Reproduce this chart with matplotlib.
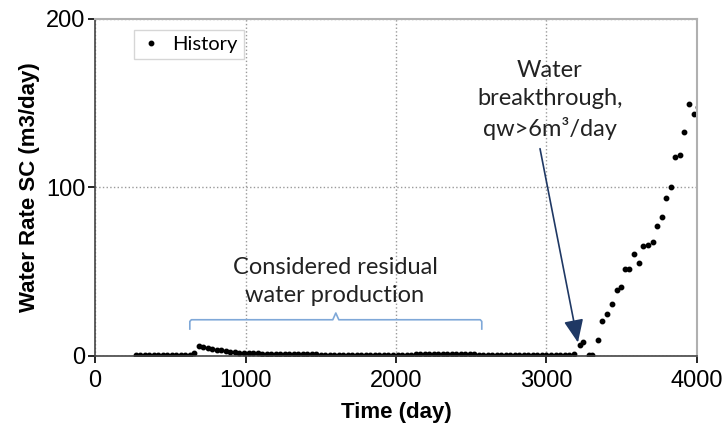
import matplotlib.pyplot as plt

# monthly history of water rate (m3/day)
time_early = [
    270, 300, 330, 360, 390, 420, 450, 480, 510, 540, 570, 600, 630,
    660, 690, 720, 750, 780, 810, 840, 870, 900, 930, 960, 990,
    1020, 1050, 1080, 1110, 1140, 1170, 1200, 1230, 1260, 1290, 1320,
    1350, 1380, 1410, 1440, 1470,
]
rate_early = [
    0.3, 0.3, 0.3, 0.3, 0.3, 0.3, 0.3, 0.3, 0.3, 0.3, 0.3, 0.3, 0.3,
    2.0, 6.0, 5.2, 4.8, 4.2, 3.8, 3.5, 3.0, 2.6, 2.3, 2.0, 1.8,
    1.6, 1.5, 1.5, 1.4, 1.4, 1.3, 1.3, 1.2, 1.2, 1.2, 1.1,
    1.1, 1.0, 1.0, 1.0, 1.0,
]
time_mid = [
    1500, 1530, 1560, 1590, 1620, 1650, 1680, 1710, 1740, 1770, 1800,
    1830, 1860, 1890, 1920, 1950, 1980, 2010, 2040, 2070, 2100,
    2130, 2160, 2190, 2220, 2250, 2280, 2310, 2340, 2370, 2400, 2430,
    2460, 2490, 2520,
    2550, 2580, 2610, 2640, 2670, 2700, 2730, 2760, 2790, 2820, 2850,
    2880, 2910, 2940, 2970, 3000, 3030, 3060, 3090, 3120, 3150, 3180,
]
rate_mid = [
    0.3, 0.3, 0.3, 0.3, 0.3, 0.3, 0.3, 0.3, 0.3, 0.3, 0.3,
    0.3, 0.3, 0.3, 0.3, 0.3, 0.3, 0.3, 0.3, 0.3, 0.3,
    1.0, 1.0, 1.0, 1.0, 1.0, 1.0, 1.0, 1.0, 1.0, 1.0, 1.0,
    1.0, 1.0, 1.0,
    0.3, 0.3, 0.3, 0.3, 0.3, 0.3, 0.3, 0.3, 0.3, 0.3, 0.3,
    0.3, 0.3, 0.3, 0.3, 0.3, 0.3, 0.3, 0.3, 0.3, 0.3, 1.2,
]
time_late = [
    3222, 3243, 3280, 3305, 3343, 3370, 3400, 3435, 3468, 3495,
    3521, 3548, 3581, 3615, 3641, 3674, 3707, 3734, 3767, 3794,
    3827, 3854, 3887, 3914, 3947, 3980, 4007,
]
rate_late = [
    6.5, 8.5, 0.5, 0.5, 9.5, 21, 25, 31, 39, 41,
    51.6, 51.6, 60.5, 55, 65, 66, 67.6, 77, 82.5, 94,
    100, 118, 119, 133, 149.5, 143.6, 148,
]

time_days = time_early + time_mid + time_late
water_rate = rate_early + rate_mid + rate_late

plt.rcParams["font.family"] = ["Liberation Sans", "DejaVu Sans"]

fig = plt.figure(figsize=(7.27, 4.25), dpi=100)
ax = fig.add_axes([0.1307, 0.1624, 0.828, 0.793])

ax.plot(time_days, water_rate, linestyle="none", marker="o",
        markersize=3.2, color="black", label="History")

ax.set_xlim(0, 4000)
ax.set_ylim(0, 200)
ax.set_xticks([0, 1000, 2000, 3000, 4000])
ax.set_yticks([0, 100, 200])
ax.tick_params(labelsize=17, direction="out", length=5, width=1.2)
ax.tick_params(axis="x", pad=5)
ax.tick_params(axis="y", pad=2)
ax.grid(True, linestyle=":", color="#9a9a9a", linewidth=1)

for side in ("top", "right"):
    ax.spines[side].set_color("#b0b0b0")
    ax.spines[side].set_linewidth(1.5)
for side in ("left", "bottom"):
    ax.spines[side].set_color("#444444")
    ax.spines[side].set_linewidth(1.2)

ax.set_xlabel("Time (day)", fontsize=16, fontweight="bold", labelpad=7)
ax.set_ylabel("Water Rate SC (m3/day)", fontsize=16, fontweight="bold",
              labelpad=4)

leg = ax.legend(loc="upper left", bbox_to_anchor=(0.055, 0.985),
                prop={"family": "Lato", "size": 14.5}, frameon=True,
                fancybox=False, handlelength=1.1, handletextpad=0.5,
                borderpad=0.3, borderaxespad=0.3)
leg.get_frame().set_edgecolor("#cccccc")
leg.get_frame().set_linewidth(1)

# bracket marking the residual water period
bracket_x = [630, 630, 640, 1580, 1600, 1620, 2560, 2570, 2570]
bracket_y = [16, 20.5, 21.5, 21.5, 25.5, 21.5, 21.5, 20.5, 16]
ax.plot(bracket_x, bracket_y, color="#7fa8d8", linewidth=1.2)

ax.text(1595, 44, "Considered residual\nwater production",
        ha="center", va="center", fontsize=17, family="Lato",
        linespacing=1.4, color="#222222")

ax.text(3023, 152, "Water\nbreakthrough,\nqw>6m³/day",
        ha="center", va="center", fontsize=17, family="Lato",
        linespacing=1.4, color="#222222")

ax.annotate("", xy=(3209, 8), xytext=(2957, 123),
            arrowprops=dict(arrowstyle="-|>,head_length=1.4,head_width=0.6",
                            color="#1f3864", linewidth=1.2,
                            shrinkA=0, shrinkB=0))

fig.savefig("out.png", dpi=100)
